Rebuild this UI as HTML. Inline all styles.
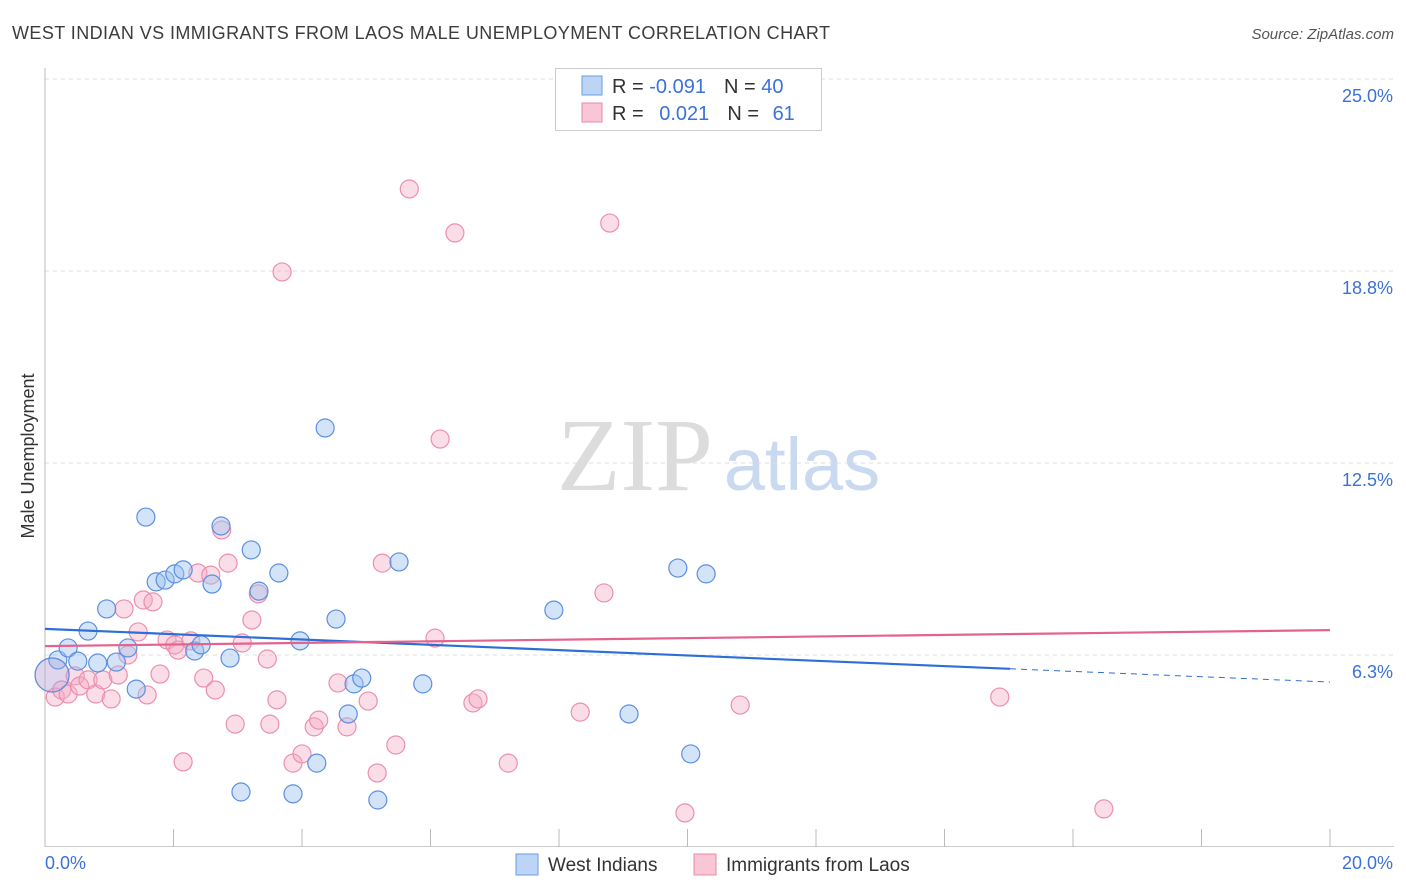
<!DOCTYPE html>
<html><head><meta charset="utf-8"><style>
body{margin:0;background:#fff;font-family:"Liberation Sans",sans-serif;}
svg{display:block}
</style></head><body>
<svg id="c" width="1406" height="892">
<text x="12" y="39" font-size="18" fill="#3c3c3c" textLength="818">WEST INDIAN VS IMMIGRANTS FROM LAOS MALE UNEMPLOYMENT CORRELATION CHART</text>
<text x="1394" y="39" font-size="15" fill="#555" font-style="italic" text-anchor="end">Source: ZipAtlas.com</text>
<text x="34" y="456" font-size="18" fill="#333" text-anchor="middle" transform="rotate(-90 34 456)">Male Unemployment</text>
<g>
<text x="635" y="490" font-size="104" fill="#dcdcdc" font-family="Liberation Serif,serif" text-anchor="middle">ZIP</text>
<text x="802" y="490" font-size="74" fill="#c9d9ef" text-anchor="middle">atlas</text></g>
<g id="grid"></g><g id="pts"></g><g id="lines"></g>
<g>
<rect x="555.5" y="68.5" width="266" height="62" fill="#fff" stroke="#ccc"/>
<rect x="582" y="76" width="20" height="19" fill="#bcd4f5" stroke="#6a9be0"/>
<rect x="582" y="103" width="20" height="19" fill="#f9c6d6" stroke="#e88aa8"/>
<text x="612" y="93" font-size="20" fill="#333">R = <tspan fill="#3a72d8">-0.091</tspan><tspan dx="18">N = </tspan><tspan fill="#3a72d8">40</tspan></text>
<text x="612" y="120" font-size="20" fill="#333">R = <tspan fill="#3a72d8" dx="10">0.021</tspan><tspan dx="18">N = </tspan><tspan fill="#3a72d8" dx="8">61</tspan></text>
</g>
<g>
<rect x="516" y="854" width="22" height="21" fill="#bcd4f5" stroke="#6a9be0"/>
<text x="548" y="871" font-size="19" fill="#333">West Indians</text>
<rect x="694" y="854" width="22" height="21" fill="#f9c6d6" stroke="#e88aa8"/>
<text x="726" y="871" font-size="19" fill="#333">Immigrants from Laos</text>
</g>
</svg>
<script>
const blueX=[0.20,0.36,0.67,0.51,0.82,1.11,0.96,1.29,1.42,1.57,1.73,1.87,2.02,2.15,2.33,2.60,2.43,2.74,2.88,3.21,3.33,3.64,3.97,4.23,4.36,4.53,4.72,4.81,4.93,5.18,5.51,5.88,7.92,9.09,9.85,10.05,10.29,3.05,3.86,0.11];
const blueY=[6.09,6.48,7.03,6.05,5.99,6.02,7.75,6.48,5.14,10.74,8.63,8.69,8.89,9.02,6.38,8.56,6.58,10.45,6.15,9.67,8.33,8.92,6.71,2.73,13.64,7.42,4.33,5.31,5.50,1.53,9.28,5.31,7.71,4.33,9.08,3.03,8.89,1.79,1.73,5.60];
const pinkX=[0.11,0.16,0.26,0.36,0.47,0.54,0.67,0.79,0.90,1.03,1.14,1.23,1.29,1.45,1.53,1.59,1.68,1.79,1.90,2.02,2.07,2.15,2.27,2.38,2.47,2.58,2.65,2.75,2.85,2.96,3.07,3.22,3.32,3.46,3.50,3.61,3.69,3.86,4.00,4.19,4.26,4.56,4.70,5.03,5.17,5.25,5.46,5.67,6.15,6.38,6.66,6.74,7.21,8.33,8.70,8.79,9.96,10.82,14.86,16.48,6.07];
const pinkY=[5.60,4.88,5.11,4.98,5.57,5.24,5.44,4.98,5.44,4.82,5.60,7.75,6.25,7.00,8.04,4.95,7.98,5.63,6.74,6.58,6.41,2.77,6.71,8.92,5.50,8.85,5.11,10.32,9.24,4.00,6.64,7.39,8.24,6.12,4.00,4.79,18.72,2.73,3.03,3.91,4.13,5.34,3.91,4.75,2.41,9.24,3.32,21.42,13.28,19.99,4.69,4.82,2.73,4.39,8.27,20.31,1.11,4.62,4.88,1.24,6.80];
const yTicks=[6.25,12.5,18.75,25];
const yTickLabels=["6.3%","12.5%","18.8%","25.0%"];
const xTickVals=[0,2,4,6,8,10,12,14,16,18,20];
const blueTrend=[7.10,5.37];const pinkTrend=[6.54,7.06];
const NS="http://www.w3.org/2000/svg";
const sx=v=>45+v*64.25, sy=v=>847-v*30.72;
function mk(t,a,p){const e=document.createElementNS(NS,t);for(const k in a)e.setAttribute(k,a[k]);p.appendChild(e);return e;}
const g=document.getElementById('grid');
yTicks.forEach((v,i)=>{
 const l=mk('line',{x1:45,x2:1394,y1:sy(v),y2:sy(v),stroke:'#ddd','stroke-dasharray':'4,4'},g);
 
 
 const t=mk('text',{x:1393,y:sy(v)+23,'font-size':18,fill:'#3a72d8','text-anchor':'end'},g);t.textContent=yTickLabels[i];
 
 
});
const ax=mk('line',{x1:45,x2:45,y1:68,y2:847,stroke:'#bbb'},g);


const bx=mk('line',{x1:45,x2:1394,y1:846.5,y2:846.5,stroke:'#ccc'},g);


xTickVals.forEach(v=>{const t=mk('line',{x1:sx(v),x2:sx(v),y1:829,y2:847,stroke:'#bbb'},g);
 
 });
const x0=mk('text',{x:45,y:869,'font-size':18,fill:'#3a72d8'},g);x0.textContent='0.0%';


const x1=mk('text',{x:1393,y:869,'font-size':18,fill:'#3a72d8','text-anchor':'end'},g);x1.textContent='20.0%';


const P=document.getElementById('pts');
pinkX.forEach((x,i)=>{const c=mk('circle',{cx:sx(x),cy:sy(pinkY[i]),r:i==0?17:9,fill:i==0?'rgba(246,170,196,0.25)':'rgba(246,170,196,0.4)',stroke:'#eb8fae','stroke-width':1.2},P);
 
 });
blueX.forEach((x,i)=>{const c=mk('circle',{cx:sx(x),cy:sy(blueY[i]),r:i==39?17:9,fill:i==39?'rgba(160,170,230,0.3)':'rgba(160,196,240,0.45)',stroke:'#5b8fe0','stroke-width':1.2},P);
 
 });
const L=document.getElementById('lines');
const bm=blueTrend[0]+(blueTrend[1]-blueTrend[0])*0.751;
const b1=mk('line',{x1:sx(0),y1:sy(blueTrend[0]),x2:sx(15.02),y2:sy(bm),stroke:'#2c6fd6','stroke-width':2.2},L);


const b2=mk('line',{x1:sx(15.02),y1:sy(bm),x2:sx(20),y2:sy(blueTrend[1]),stroke:'#2c6fd6','stroke-width':1,'stroke-dasharray':'6,5'},L);


const p1=mk('line',{x1:sx(0),y1:sy(pinkTrend[0]),x2:sx(20),y2:sy(pinkTrend[1]),stroke:'#e4628e','stroke-width':2.2},L);


</script>
</body></html>
